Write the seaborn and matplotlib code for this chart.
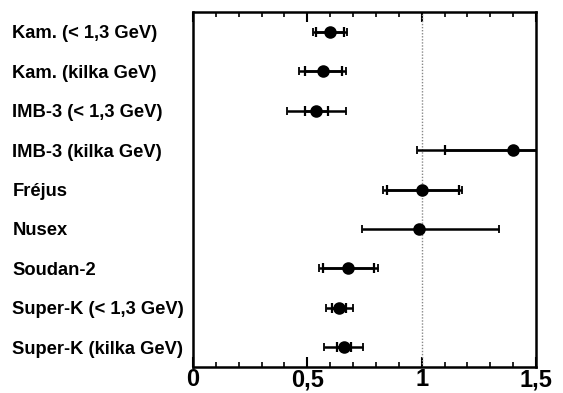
import matplotlib
matplotlib.use("Agg")
import matplotlib.pyplot as plt
import seaborn as sns
import numpy as np
import pandas as pd
from matplotlib.ticker import MultipleLocator, FixedLocator

experiments = ["Kam. (< 1,3 GeV)", "Kam. (kilka GeV)", "IMB-3 (< 1,3 GeV)",
               "IMB-3 (kilka GeV)", "Fréjus", "Nusex", "Soudan-2",
               "Super-K (< 1,3 GeV)", "Super-K (kilka GeV)"]
ratio = [0.60, 0.57, 0.54, 1.40, 1.00, 0.99, 0.68, 0.64, 0.66]
stat_lo = [0.06, 0.08, 0.05, 0.30, 0.15, np.nan, 0.11, 0.03, 0.03]
stat_hi = [0.06, 0.08, 0.05, 0.30, 0.165, np.nan, 0.11, 0.03, 0.03]
tot_lo = [0.074, 0.105, 0.13, 0.42, 0.17, 0.25, 0.13, 0.06, 0.085]
tot_hi = [0.075, 0.10, 0.13, 0.42, 0.175, 0.35, 0.13, 0.06, 0.085]
xticks = [0, 0.5, 1, 1.5]
xtick_labels = ["0", "0,5", "1", "1,5"]

df = pd.DataFrame({"experiment": experiments, "ratio": ratio,
                   "stat_lo": stat_lo, "stat_hi": stat_hi,
                   "tot_lo": tot_lo, "tot_hi": tot_hi})

sns.set_style("white")
plt.rcParams["font.family"] = ["Liberation Sans", "DejaVu Sans"]
plt.rcParams["font.weight"] = "bold"
plt.rcParams["text.color"] = "black"
plt.rcParams["xtick.labelcolor"] = "black"
plt.rcParams["ytick.labelcolor"] = "black"

fig = plt.figure(figsize=(5.63, 3.93), dpi=100)
ax = fig.add_axes([193 / 563, 1 - 367 / 393, (536 - 193) / 563, (367 - 12) / 393])

ax.axvline(1.0, color="#888888", lw=1.0, ls=(0, (1, 1.2)), zorder=1)

pos = np.arange(len(df))
ax.errorbar(df["ratio"], pos, xerr=[df["tot_lo"], df["tot_hi"]], fmt="none",
            ecolor="black", elinewidth=1.8, capsize=3, capthick=1.3, zorder=2)
m = df["stat_lo"].notna()
ax.errorbar(df["ratio"][m], pos[m], xerr=[df["stat_lo"][m], df["stat_hi"][m]],
            fmt="none", ecolor="black", elinewidth=1.8, capsize=3.5, capthick=1.6, zorder=2)

sns.pointplot(data=df, x="ratio", y="experiment", orient="h", linestyle="none",
              marker="o", color="black", markersize=7, errorbar=None, ax=ax, zorder=3)

ax.set_xlim(0, 1.5)
ax.set_ylim(len(df) - 0.5, -0.5)
ax.set_xlabel("")
ax.set_ylabel("")
ax.xaxis.set_major_locator(FixedLocator(xticks))
ax.set_xticklabels(xtick_labels)
ax.xaxis.set_minor_locator(MultipleLocator(0.1))
ax.tick_params(axis="x", which="both", direction="in", top=True, bottom=True,
               color="black")
ax.tick_params(axis="x", which="major", length=7, width=1.5, labelsize=17, pad=1)
ax.tick_params(axis="x", which="minor", length=3.5, width=1.2)
ax.tick_params(axis="y", length=0, labelsize=13.2, pad=130)
for lbl in ax.get_yticklabels():
    lbl.set_horizontalalignment("left")
    lbl.set_fontweight("bold")
    lbl.set_color("black")
for lbl in ax.get_xticklabels():
    lbl.set_fontweight("bold")
    lbl.set_color("black")
for s in ax.spines.values():
    s.set_linewidth(1.8)
    s.set_color("black")
    s.set_visible(True)

fig.savefig("out.png", dpi=100)
